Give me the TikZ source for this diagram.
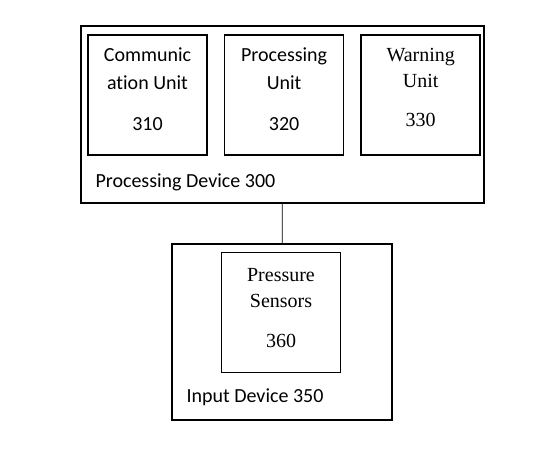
\documentclass[tikz,border=0pt]{standalone}
\usepackage{fontspec}
\setmainfont{Liberation Serif}
\setsansfont{Carlito}[Ligatures=NoCommon]
\usetikzlibrary{positioning}

\begin{document}
\begin{tikzpicture}[x=1pt, y=-1pt,
    device/.style={draw, line width=1.5pt, minimum width=403pt, minimum height=177pt},
    unit/.style={draw, line width=1.6pt, minimum width=119pt, minimum height=120pt, inner sep=0pt, align=center},
    sanstext/.style={font=\sffamily\fontsize{20}{28}\selectfont},
    seriftext/.style={font=\rmfamily\fontsize{20}{26}\selectfont}
]
    \useasboundingbox (0,0) rectangle (550,462);

    \node (procdev) [device] at (282.5,114.5) {};
    \node (comm) [unit, sanstext, text depth=12pt] at (147.5,95) {Communic\\ation Unit\\[13pt]310};
    \node (proc) [unit, sanstext, text depth=12pt, right=16pt of comm] {Processing\\Unit\\[13pt]320};
    \node (warn) [unit, seriftext, text depth=16pt, right=16pt of proc] {Warning\\Unit\\[13pt]330};
    \node (proclabel) [sanstext, anchor=base west] at (92,188) {Processing Device 300};

    \node (input) [device, minimum width=220pt, minimum height=176pt] at (282,332) {};
    \node (sensors) [unit, seriftext, text depth=10pt] at (281,312.5) {Pressure\\Sensors\\[14pt]360};
    \node (inputlabel) [sanstext, anchor=base west] at (183,403) {Input Device 350};

    \draw [line width=0.6pt] (procdev) -- (input);
\end{tikzpicture}
\end{document}
